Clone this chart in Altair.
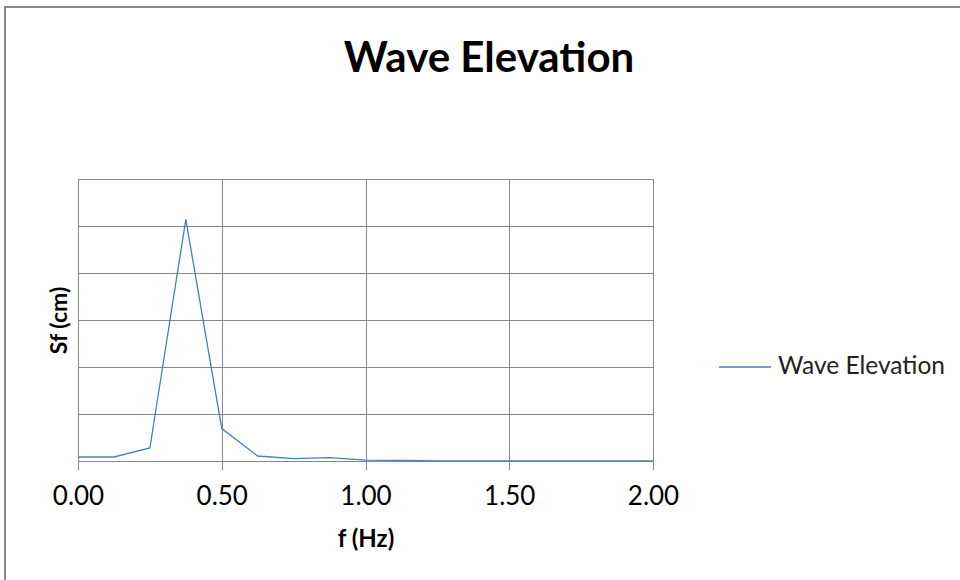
import altair as alt
import pandas as pd

freq = [0.0, 0.125, 0.25, 0.375, 0.5, 0.625, 0.75, 0.875, 1.0, 1.125, 1.25,
        1.375, 1.5, 1.625, 1.75, 1.875, 2.0]
sf = [0.085, 0.085, 0.277, 5.14, 0.69, 0.106, 0.05, 0.072, 0.02, 0.012, 0.0,
      0.0, 0.0, 0.0, 0.0, 0.0, 0.0]
series = "Wave Elevation"
x_ticks = [0.0, 0.5, 1.0, 1.5, 2.0]
y_grid = [0, 1, 2, 3, 4, 5, 6]

df = pd.DataFrame({"f": freq, "sf": sf, "series": [series] * len(freq)})

FONT = "Lato"
GRID = "#878787"

line = alt.Chart(df).mark_line(strokeWidth=1.3).encode(
    x=alt.X("f:Q", scale=alt.Scale(domain=[0, 2], nice=False),
            axis=alt.Axis(values=x_ticks, format=".2f", title="f (Hz)",
                          grid=True, gridColor=GRID, domain=False,
                          ticks=True, tickSize=9, tickColor=GRID,
                          labelFlush=False, labelOverlap=False,
                          labelFont=FONT, labelFontSize=26, labelColor="#000000",
                          labelPadding=13, titleFont=FONT, titleFontSize=24,
                          titleFontWeight="bold", titleColor="#000000",
                          titlePadding=18)),
    y=alt.Y("sf:Q", scale=alt.Scale(domain=[0, 6], nice=False),
            axis=alt.Axis(values=y_grid, labels=False,
                          ticks=False, domain=False, grid=True, gridColor=GRID,
                          title="Sf (cm)", titleFont=FONT, titleFontSize=23,
                          titleFontWeight="bold", titleColor="#000000",
                          titlePadding=7)),
    color=alt.Color("series:N", scale=alt.Scale(range=["#4a7ebb"]),
                    legend=alt.Legend(title=None, orient="none", legendX=640,
                                      legendY=161, symbolType="stroke",
                                      symbolSize=2704, symbolStrokeWidth=1.3,
                                      labelFont=FONT, labelFontSize=24.5,
                                      labelColor="#222222", labelOffset=6,
                                      labelLimit=400, padding=0)),
)

title = alt.Chart(pd.DataFrame({"t": ["Wave Elevation"]})).mark_text(
    font=FONT, fontSize=42, fontWeight="bold", color="#000000",
    align="center", baseline="alphabetic"
).encode(text="t:N", x=alt.value(411), y=alt.value(-107))

frame = alt.Chart(pd.DataFrame({"a": [0]})).mark_rect(
    filled=False, stroke="#898989", strokeWidth=2
).encode(x=alt.value(-73), x2=alt.value(895), y=alt.value(-172), y2=alt.value(415))

chart = alt.layer(frame, line, title).properties(
    width=575, height=282,
    autosize=alt.AutoSizeParams(type="none"),
    padding={"left": 78, "top": 179, "right": 307, "bottom": 119},
    background="#ffffff",
).configure_view(stroke=GRID, strokeWidth=1)

chart.save("out.html", embed_options={"renderer": "svg", "actions": False})
